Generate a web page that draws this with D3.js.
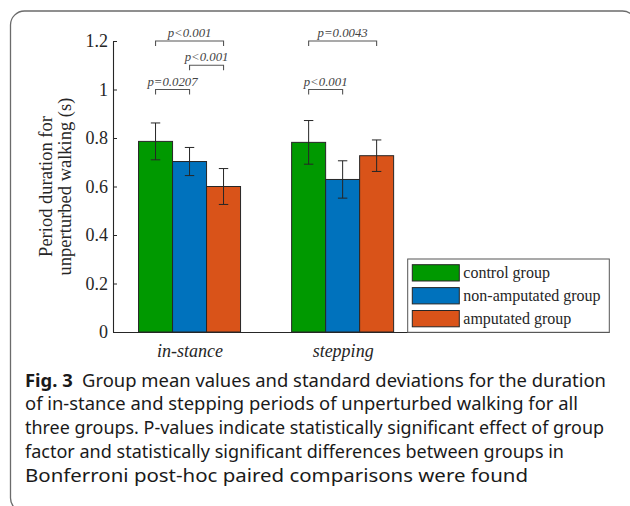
<!DOCTYPE html>
<html>
<head>
<meta charset="utf-8">
<script src="https://cdn.jsdelivr.net/npm/d3@7"></script>
<style>
  body { margin: 0; background: #fff; }
  svg { display: block; }
</style>
</head>
<body>
<svg id="chart" width="630" height="506"></svg>
<script>
// 1] Data ----------------------------------------//
const categories = ["in-stance", "stepping"];
const groups = ["control group", "non-amputated group", "amputated group"];
const groupColors = ["#009900", "#0072bd", "#d95319"];

const controlMean = [0.786, 0.782];
const nonAmpMean  = [0.703, 0.629];
const ampMean     = [0.600, 0.727];

const controlSd = [0.076, 0.090];
const nonAmpSd  = [0.058, 0.077];
const ampSd     = [0.074, 0.065];

const yTicks = [0, 0.2, 0.4, 0.6, 0.8, 1, 1.2];

// significance brackets: category, first group, second group, level, label
const bracketCat   = [0, 0, 0, 1, 1];
const bracketFrom  = [0, 1, 0, 0, 0];
const bracketTo    = [1, 2, 2, 1, 2];
const bracketLevel = [1.0, 1.1, 1.2, 1.0, 1.2];
const bracketLabel = ["p=0.0207", "p<0.001", "p<0.001", "p<0.001", "p=0.0043"];

const captionLines = [
  "Group mean values and standard deviations for the duration",
  "of in-stance and stepping periods of unperturbed walking for all",
  "three groups. P-values indicate statistically significant effect of group",
  "factor and statistically significant differences between groups in",
  "Bonferroni post-hoc paired comparisons were found"
];

const means = [controlMean, nonAmpMean, ampMean];
const sds = [controlSd, nonAmpSd, ampSd];

// flatten into one row per bar
const bars = [];
categories.forEach((c, ci) => {
  groups.forEach((g, gi) => {
    bars.push({ cat: ci, group: gi, mean: means[gi][ci], sd: sds[gi][ci] });
  });
});

const svg = d3.select("#chart");
const serif = "'Liberation Serif', 'Times New Roman', serif";
const ink = "#262626";

// 2] Frame round the figure ------------------------//
svg.append("rect")
  .attr("x", 10.5).attr("y", 11)
  .attr("width", 626).attr("height", 501)
  .attr("rx", 14).attr("ry", 14)
  .attr("fill", "none")
  .attr("stroke", "#6b6b6b")
  .attr("stroke-width", 1.3);

// 3] Scales ------------------------------------------//
const plotLeft = 113, plotRight = 609, plotTop = 41, plotBottom = 332;

const xScale = d3.scaleLinear()
  .domain([0.5, 3.74])
  .range([plotLeft, plotRight]);

const inner = d3.scaleBand()
  .domain(d3.range(groups.length))
  .range([-51, 51]);

const yScale = d3.scaleLinear()
  .domain([0, 1.2])
  .range([plotBottom, plotTop]);

const barX = (d) => xScale(d.cat + 1) + inner(d.group);
const barMid = (d) => barX(d) + inner.bandwidth() / 2;

// 4] Bars --------------------------------------------//
svg.append("g").selectAll("rect")
  .data(bars)
  .join("rect")
  .attr("x", barX)
  .attr("y", (d) => yScale(d.mean))
  .attr("width", inner.bandwidth())
  .attr("height", (d) => yScale(0) - yScale(d.mean))
  .attr("fill", (d) => groupColors[d.group])
  .attr("stroke", ink)
  .attr("stroke-width", 1);

// 5] Error bars --------------------------------------//
const err = svg.append("g")
  .attr("stroke", ink)
  .attr("stroke-width", 1)
  .selectAll("g")
  .data(bars)
  .join("g");

err.append("line")
  .attr("x1", barMid).attr("x2", barMid)
  .attr("y1", (d) => yScale(d.mean + d.sd))
  .attr("y2", (d) => yScale(d.mean - d.sd));

err.append("line")
  .attr("x1", (d) => barMid(d) - 4.7).attr("x2", (d) => barMid(d) + 4.7)
  .attr("y1", (d) => yScale(d.mean + d.sd))
  .attr("y2", (d) => yScale(d.mean + d.sd));

err.append("line")
  .attr("x1", (d) => barMid(d) - 4.7).attr("x2", (d) => barMid(d) + 4.7)
  .attr("y1", (d) => yScale(d.mean - d.sd))
  .attr("y2", (d) => yScale(d.mean - d.sd));

// 6] Axes --------------------------------------------//
const yAxis = d3.axisLeft(yScale)
  .tickValues(yTicks)
  .tickFormat((d) => String(d))
  .tickSize(-4)
  .tickSizeOuter(0)
  .tickPadding(5);

const gy = svg.append("g")
  .attr("transform", `translate(${plotLeft},0)`)
  .call(yAxis);

const xAxis = d3.axisBottom(xScale)
  .tickValues([1, 2])
  .tickFormat((d) => categories[d - 1])
  .tickSize(0)
  .tickSizeOuter(0)
  .tickPadding(12);

const gx = svg.append("g")
  .attr("transform", `translate(0,${plotBottom})`)
  .call(xAxis);

[gx, gy].forEach((g) => {
  g.select(".domain").attr("stroke", ink).attr("stroke-width", 1.1);
  g.selectAll(".tick line").attr("stroke", ink);
  g.selectAll("text")
    .attr("fill", ink)
    .style("font-family", serif)
    .style("font-size", "18px");
});
gx.selectAll("text").style("font-style", "italic");

// y label in two lines
const yLabel = svg.append("text")
  .attr("transform", `translate(0,${(plotTop + plotBottom) / 2}) rotate(-90)`)
  .attr("text-anchor", "middle")
  .attr("fill", ink)
  .style("font-family", serif)
  .style("font-size", "18.5px");
yLabel.append("tspan").attr("x", 0).attr("y", 51.5).text("Period duration for");
yLabel.append("tspan").attr("x", 0).attr("y", 71).text("unperturbed walking (s)");

// 7] Significance brackets ---------------------------//
const bx = (ci, gi) => xScale(ci + 1) + inner(gi) + inner.bandwidth() / 2;
const brk = svg.append("g")
  .selectAll("g")
  .data(bracketLabel.map((label, i) => i))
  .join("g");

brk.append("path")
  .attr("d", (i) => {
    const x1 = bx(bracketCat[i], bracketFrom[i]);
    const x2 = bx(bracketCat[i], bracketTo[i]);
    const y = yScale(bracketLevel[i]);
    return `M${x1},${y + 5}V${y}H${x2}V${y + 5}`;
  })
  .attr("fill", "none")
  .attr("stroke", "#555")
  .attr("stroke-width", 1.1);

brk.append("text")
  .attr("x", (i) => (bx(bracketCat[i], bracketFrom[i]) + bx(bracketCat[i], bracketTo[i])) / 2)
  .attr("y", (i) => yScale(bracketLevel[i]) - 4)
  .attr("text-anchor", "middle")
  .attr("fill", "#444")
  .style("font-family", serif)
  .style("font-style", "italic")
  .style("font-size", "12.8px")
  .text((i) => bracketLabel[i]);

// 8] Legend ------------------------------------------//
const legend = svg.append("g");
legend.append("rect")
  .attr("x", 407.7).attr("y", 259)
  .attr("width", 201.6).attr("height", 73.3)
  .attr("fill", "#fff")
  .attr("stroke", "#555")
  .attr("stroke-width", 1);

const rows = legend.selectAll("g.row")
  .data(groups)
  .join("g")
  .attr("class", "row")
  .attr("transform", (d, i) => `translate(412.3,${264.7 + i * 22.9})`);

rows.append("rect")
  .attr("width", 47).attr("height", 16.3)
  .attr("fill", (d, i) => groupColors[i])
  .attr("stroke", ink)
  .attr("stroke-width", 1);

rows.append("text")
  .attr("x", 51).attr("y", 13.3)
  .attr("fill", ink)
  .style("font-family", serif)
  .style("font-size", "16px")
  .text((d) => d);

// 9] Caption -----------------------------------------//
const capWidths = [581, 553, 579, 539, 503];
const capBase = [386.7, 410.4, 434, 458, 481.7];

const cap = svg.append("g")
  .style("font-family", "'Noto Sans', 'Open Sans', sans-serif")
  .style("font-size", "18.3px")
  .attr("fill", "#1a1a1a");

captionLines.forEach((line, i) => {
  const t = cap.append("text")
    .attr("x", 25)
    .attr("y", capBase[i])
    .attr("textLength", capWidths[i])
    .attr("lengthAdjust", "spacingAndGlyphs");
  if (i === 0) {
    t.append("tspan").style("font-weight", "bold").text("Fig. 3");
    t.append("tspan").text("\u2002" + line);
  } else {
    t.text(line);
  }
});
</script>
</body>
</html>
